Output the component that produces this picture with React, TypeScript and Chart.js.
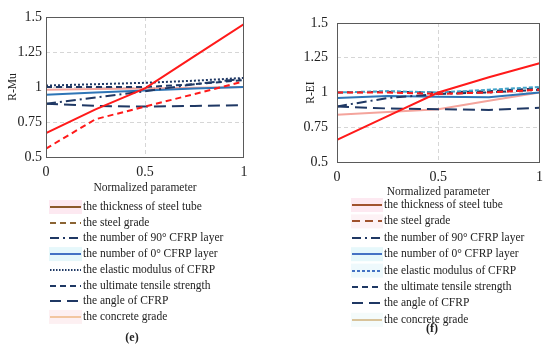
import React, { useEffect, useRef } from "react";
import { Chart, registerables } from "chart.js";

Chart.register(...registerables);

// ---------- data ----------
const xValues = [0, 0.25, 0.5, 0.75, 1];
const xTickValues = [0, 0.5, 1];
const yTickValues = [0.5, 0.75, 1, 1.25, 1.5];

const seriesLabels = [
  "the thickness of steel tube",
  "the steel grade",
  "the number of 90° CFRP layer",
  "the number of 0° CFRP layer",
  "the elastic modulus of CFRP",
  "the ultimate tensile strength",
  "the angle of CFRP",
  "the concrete grade",
];

// panel (e): R-Mu
const muThickness = [0.67, 0.84, 0.99, 1.22, 1.45];
const muSteelGrade = [0.56, 0.77, 0.86, 0.95, 1.04];
const muLayer90 = [0.88, 0.925, 0.97, 1.02, 1.06];
const muLayer0 = [0.945, 0.96, 0.975, 0.99, 1.0];
const muElastic = [1.01, 1.02, 1.03, 1.045, 1.065];
const muUltimate = [1.0, 1.0, 1.0, 1.02, 1.05];
const muAngle = [0.88, 0.865, 0.86, 0.865, 0.87];
const muConcrete = [0.98, 0.985, 0.99, 0.995, 1.0];

// panel (f): R-EI
const eiThickness = [0.66, 0.83, 1.0, 1.11, 1.21];
const eiSteelGrade = [1.0, 1.0, 0.99, 1.0, 1.02];
const eiLayer90 = [0.9, 0.96, 0.99, 1.0, 1.02];
const eiLayer0 = [0.96, 0.975, 0.97, 0.965, 1.0];
const eiElastic = [1.0, 1.01, 1.0, 1.02, 1.04];
const eiUltimate = [1.0, 1.005, 1.0, 1.01, 1.03];
const eiAngle = [0.9, 0.885, 0.88, 0.875, 0.89];
const eiConcrete = [0.84, 0.86, 0.88, 0.94, 1.0];

// ---------- styles ----------
const RED = "#ff1a1a";
const NAVY = "#1f3864";
const BLUE = "#2e75b6";
const SALMON = "#f4a49c";
const TEAL = "#41a3c9";
const FONT = '"Liberation Serif", "Times New Roman", serif';
const TEXT = "#222222";

type LineStyle = { color: string; dash: number[]; width: number };
type LegendStyle = { color: string; dash: number[]; bg?: string };

const lineStylesE: LineStyle[] = [
  { color: RED, dash: [], width: 2 },
  { color: RED, dash: [6, 4], width: 2 },
  { color: NAVY, dash: [10, 4, 2, 4], width: 2 },
  { color: BLUE, dash: [], width: 2 },
  { color: NAVY, dash: [2, 2], width: 2 },
  { color: NAVY, dash: [6, 4], width: 2 },
  { color: NAVY, dash: [12, 6], width: 2 },
  { color: SALMON, dash: [], width: 2 },
];
const lineStylesF: LineStyle[] = [
  { color: RED, dash: [], width: 2 },
  { color: RED, dash: [6, 4], width: 2 },
  { color: NAVY, dash: [10, 4, 2, 4], width: 2 },
  { color: BLUE, dash: [], width: 2 },
  { color: TEAL, dash: [4, 2], width: 2 },
  { color: NAVY, dash: [6, 4], width: 2 },
  { color: NAVY, dash: [12, 6], width: 2 },
  { color: SALMON, dash: [], width: 2 },
];

const legendStylesE: LegendStyle[] = [
  { color: "#8b5a2b", dash: [], bg: "#fde9f1" },
  { color: "#8b6434", dash: [6, 4] },
  { color: NAVY, dash: [9, 4, 2, 4] },
  { color: "#4472c4", dash: [], bg: "#e6f8fb" },
  { color: NAVY, dash: [1.5, 1.5] },
  { color: NAVY, dash: [6, 4] },
  { color: NAVY, dash: [11, 6] },
  { color: "#f2c6a0", dash: [], bg: "#fdf0f2" },
];
const legendStylesF: LegendStyle[] = [
  { color: "#a0522d", dash: [], bg: "#fde9f1" },
  { color: "#a0522d", dash: [8, 5], bg: "#fdf2f5" },
  { color: NAVY, dash: [9, 4, 2, 4] },
  { color: "#4472c4", dash: [], bg: "#e6f8fb" },
  { color: "#4472c4", dash: [3, 2], bg: "#eef9fc" },
  { color: NAVY, dash: [6, 4] },
  { color: NAVY, dash: [11, 6] },
  { color: "#d8c39a", dash: [], bg: "#f4fbfb" },
];

type PanelCfg = {
  yTitle: string;
  caption: string;
  series: number[][];
  lines: LineStyle[];
  legend: LegendStyle[];
  padding: { left: number; right: number; top: number; bottom: number };
  yAxisWidth: number;
  xAxisHeight: number;
  yTitlePad: number;
  yTickPad: number;
  legendX0: number;
  legendX1: number;
  legendTextX: number;
  legendY0: number;
  legendStep: number;
  captionX: number;
  captionY: number;
};

const panelE: PanelCfg = {
  yTitle: "R-Mu",
  caption: "(e)",
  series: [muThickness, muSteelGrade, muLayer90, muLayer0, muElastic, muUltimate, muAngle, muConcrete],
  lines: lineStylesE,
  legend: legendStylesE,
  padding: { left: 0, right: 31, top: 17, bottom: 154 },
  yAxisWidth: 46,
  xAxisHeight: 38,
  yTitlePad: 6,
  yTickPad: 4,
  legendX0: 50,
  legendX1: 81,
  legendTextX: 83,
  legendY0: 207,
  legendStep: 15.7,
  captionX: 132,
  captionY: 338,
};

const panelF: PanelCfg = {
  yTitle: "R-EI",
  caption: "(f)",
  series: [eiThickness, eiSteelGrade, eiLayer90, eiLayer0, eiElastic, eiUltimate, eiAngle, eiConcrete],
  lines: lineStylesF,
  legend: legendStylesF,
  padding: { left: 0, right: 9, top: 23, bottom: 150 },
  yAxisWidth: 62,
  xAxisHeight: 37,
  yTitlePad: 29,
  yTickPad: 9,
  legendX0: 77,
  legendX1: 107,
  legendTextX: 109,
  legendY0: 205,
  legendStep: 16.4,
  captionX: 157,
  captionY: 329,
};

function Panel({ cfg, left }: { cfg: PanelCfg; left: number }) {
  const ref = useRef<HTMLCanvasElement | null>(null);

  useEffect(() => {
    if (!ref.current) return;
    const gridColor = (edgeVals: number[]) => (c: any) =>
      c.tick && edgeVals.includes(c.tick.value) ? "rgba(0,0,0,0)" : "#d6d6d6";

    const decor = {
      id: "panelDecor",
      afterDraw(chart: any) {
        const ctx = chart.ctx;
        const a = chart.chartArea;
        ctx.save();
        // plot frame
        ctx.strokeStyle = "#5a5a5a";
        ctx.lineWidth = 1;
        ctx.setLineDash([]);
        ctx.strokeRect(Math.round(a.left) + 0.5, Math.round(a.top) + 0.5, Math.round(a.right - a.left) - 1, Math.round(a.bottom - a.top));
        // legend
        ctx.font = `11.5px ${FONT}`;
        ctx.textBaseline = "middle";
        ctx.textAlign = "left";
        seriesLabels.forEach((label, i) => {
          const st = cfg.legend[i];
          const yc = cfg.legendY0 + i * cfg.legendStep;
          if (st.bg) {
            ctx.fillStyle = st.bg;
            ctx.fillRect(cfg.legendX0 - 1, yc - 7, cfg.legendX1 - cfg.legendX0 + 2, 14);
          }
          ctx.beginPath();
          ctx.setLineDash(st.dash);
          ctx.strokeStyle = st.color;
          ctx.lineWidth = 2;
          ctx.moveTo(cfg.legendX0, Math.round(yc));
          ctx.lineTo(cfg.legendX1, Math.round(yc));
          ctx.stroke();
          ctx.setLineDash([]);
          ctx.fillStyle = TEXT;
          ctx.fillText(label, cfg.legendTextX, yc);
        });
        // caption
        ctx.font = `bold 12px ${FONT}`;
        ctx.textAlign = "center";
        ctx.fillStyle = TEXT;
        ctx.fillText(cfg.caption, cfg.captionX, cfg.captionY);
        ctx.restore();
      },
    };

    const chart = new Chart(ref.current, {
      type: "line",
      data: {
        datasets: cfg.series.map((vals, i) => ({
          label: seriesLabels[i],
          data: xValues.map((x, k) => ({ x, y: vals[k] })),
          borderColor: cfg.lines[i].color,
          borderDash: cfg.lines[i].dash,
          borderWidth: cfg.lines[i].width,
          pointRadius: 0,
          tension: 0,
          fill: false,
        })),
      },
      options: {
        responsive: false,
        animation: false,
        layout: { padding: cfg.padding },
        plugins: {
          legend: { display: false },
          tooltip: { enabled: false },
          title: { display: false },
        },
        scales: {
          x: {
            type: "linear",
            min: 0,
            max: 1,
            afterBuildTicks: (s: any) => {
              s.ticks = xTickValues.map((v) => ({ value: v }));
            },
            afterFit: (s: any) => {
              s.height = cfg.xAxisHeight;
            },
            ticks: {
              autoSkip: false,
              maxRotation: 0,
              padding: 7,
              color: TEXT,
              font: { family: FONT, size: 14 },
              callback: (v: any) => String(v),
            },
            grid: { color: gridColor([0, 1]), drawTicks: false, lineWidth: 1 },
            border: { display: false, dash: [4, 3] },
            title: {
              display: true,
              text: "Normalized parameter",
              color: TEXT,
              font: { family: FONT, size: 11.5 },
              padding: { top: 0, bottom: 0 },
            },
          },
          y: {
            type: "linear",
            min: 0.5,
            max: 1.5,
            afterBuildTicks: (s: any) => {
              s.ticks = yTickValues.map((v) => ({ value: v }));
            },
            afterFit: (s: any) => {
              s.width = cfg.yAxisWidth;
            },
            ticks: {
              autoSkip: false,
              padding: cfg.yTickPad,
              color: TEXT,
              font: { family: FONT, size: 14 },
              callback: (v: any) => String(v),
            },
            grid: { color: gridColor([0.5, 1.5]), drawTicks: false, lineWidth: 1 },
            border: { display: false, dash: [4, 3] },
            title: {
              display: true,
              text: cfg.yTitle,
              color: TEXT,
              font: { family: FONT, size: 11.5 },
              padding: { top: cfg.yTitlePad, bottom: 0 },
            },
          },
        },
      },
      plugins: [decor],
    } as any);
    return () => chart.destroy();
  }, [cfg]);

  return (
    <canvas
      ref={ref}
      width={275}
      height={349}
      style={{ position: "absolute", left, top: 0, width: 275, height: 349 }}
    />
  );
}

export default function App() {
  return (
    <div style={{ position: "absolute", left: 0, top: 0, width: 550, height: 349, background: "#ffffff" }}>
      <Panel cfg={panelE} left={0} />
      <Panel cfg={panelF} left={275} />
    </div>
  );
}
